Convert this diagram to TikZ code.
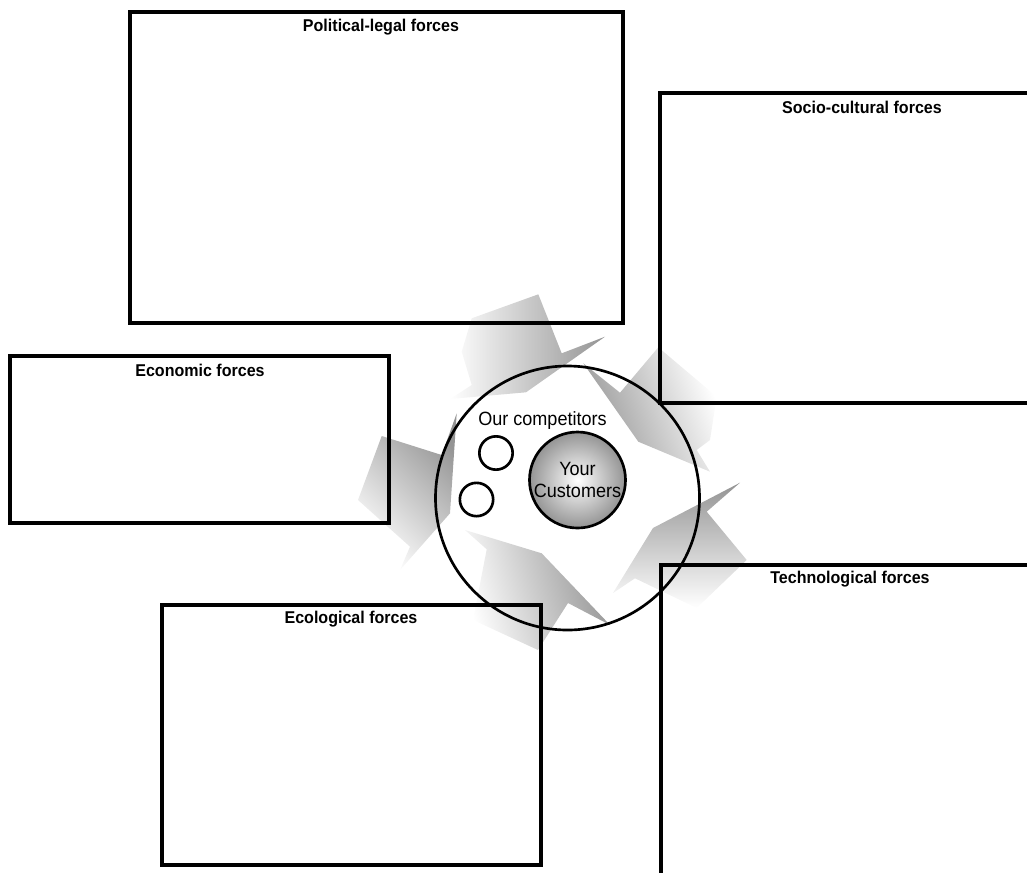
\documentclass[tikz,border=0pt]{standalone}
\usepackage{fontspec}
\setmainfont{Liberation Sans}[FakeStretch=0.94]
\usepackage{tikz}

\tikzset{
  forcebox/.style={draw, line width=2.5pt},
  forcelabel/.style={anchor=base, font=\fontsize{12.8}{15}\selectfont\bfseries},
  ring/.style={draw, circle, line width=2pt, inner sep=0pt},
  innertext/.style={font=\fontsize{14.4}{17}\selectfont},
  forcearrow/.style={top color=black!42, bottom color=white, shading angle=#1},
}

\begin{document}
\begin{tikzpicture}[x=0.75pt, y=-0.75pt]
  \useasboundingbox (0,0) rectangle (1027,872);
  \clip (0,0) rectangle (1027,872);

  \shade[forcearrow=-90] (605,336.7) -- (526,392.3) -- (450,399) -- (471.7,385)
    -- (461.7,351.7) -- (471.7,318.3) -- (538.3,294.3) -- (561.7,353.3) -- cycle;
  \shade[forcearrow=110] (583.3,363.3) -- (620,392.7) -- (658.3,347.3) -- (716.7,396.7)
    -- (710,440) -- (696.7,450) -- (710,471.7) -- (638.3,441.7) -- cycle;
  \shade[forcearrow=0] (740,482.7) -- (706.7,511.7) -- (746.7,560) -- (696.7,608)
    -- (635,578.3) -- (613,593) -- (653,528) -- cycle;
  \shade[forcearrow=-75] (465,530) -- (541.7,553.3) -- (610,625) -- (568,603)
    -- (538,650) -- (473,620) -- (486.7,549.3) -- cycle;
  \shade[forcearrow=-45] (456.7,413.3) -- (441.7,455) -- (381.7,436) -- (358,500)
    -- (410,546.7) -- (400,570) -- (450,513.3) -- cycle;

  \draw[forcebox] (130,12) rectangle (623,323);
  \node[forcelabel] (political) at (381,31) {Political-legal forces};
  \draw[forcebox] (660,93) rectangle (1065,403);
  \node[forcelabel] (social) at (862,113.5) {Socio-cultural forces};
  \draw[forcebox] (10,356) rectangle (389,523);
  \node[forcelabel] (economic) at (200,376) {Economic forces};
  \draw[forcebox] (162,605) rectangle (541,865);
  \node[forcelabel] (ecological) at (351,623) {Ecological forces};
  \draw[forcebox] (661,565) rectangle (1040,900);
  \node[forcelabel] (technological) at (850,583.5) {Technological forces};

  \node[ring, minimum size=198pt] (market) at (567.5,498) {};
  \node[ring, minimum size=25pt] (rivala) at (496,453) {};
  \node[ring, minimum size=25pt] (rivalb) at (476.5,499.5) {};
  \node[innertext, anchor=base] (competitors) at (542.5,425) {Our competitors};
  \node[ring, innertext, minimum size=72pt, align=center,
    inner color=white, outer color=black!42] (customers) at (577.5,480) {Your\\Customers};
\end{tikzpicture}
\end{document}
